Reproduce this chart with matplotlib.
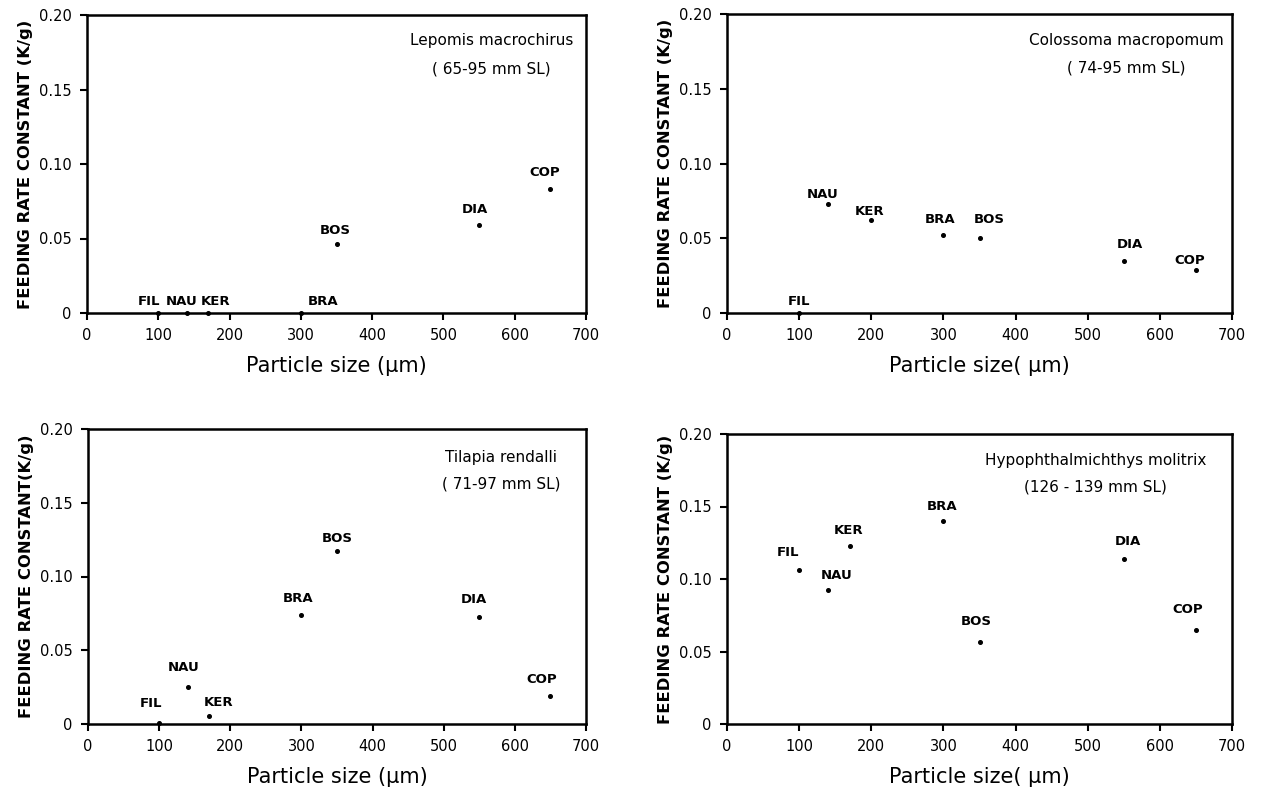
import matplotlib
matplotlib.use("Agg")
import matplotlib.pyplot as plt

# ---------------- data ----------------
prey = ["FIL", "NAU", "KER", "BRA", "BOS", "DIA", "COP"]

lepomis_size = [100, 140, 170, 300, 350, 550, 650]
lepomis_rate = [0.0, 0.0, 0.0, 0.0, 0.046, 0.059, 0.083]

colossoma_size = [100, 140, 200, 300, 350, 550, 650]
colossoma_rate = [0.0, 0.073, 0.062, 0.052, 0.050, 0.035, 0.029]

tilapia_size = [100, 140, 170, 300, 350, 550, 650]
tilapia_rate = [0.001, 0.025, 0.0055, 0.074, 0.1175, 0.0725, 0.019]

hypo_size = [100, 140, 170, 300, 350, 550, 650]
hypo_rate = [0.1065, 0.0925, 0.123, 0.140, 0.0565, 0.1135, 0.0645]

species = ["Lepomis macrochirus", "Colossoma macropomum",
           "Tilapia rendalli", "Hypophthalmichthys molitrix"]
size_ranges = ["( 65-95 mm SL)", "( 74-95 mm SL)",
               "( 71-97 mm SL)", "(126 - 139 mm SL)"]

x_ticks = [0, 100, 200, 300, 400, 500, 600, 700]
y_ticks = [0, 0.05, 0.10, 0.15, 0.20]
y_ticklabels = ["0", "0.05", "0.10", "0.15", "0.20"]

xlabels = ["Particle size (μm)", "Particle size( μm)",
           "Particle size (μm)", "Particle size( μm)"]
ylabels = ["FEEDING RATE CONSTANT (K/g)", "FEEDING RATE CONSTANT (K/g)",
           "FEEDING RATE CONSTANT(K/g)", "FEEDING RATE CONSTANT (K/g)"]

# ---------------- style / layout ----------------
# label offsets (data units) relative to each point
label_dx = [
    [-13, -7, 11, 31, -2, -6, -8],
    [0, -7, -2, -4, 13, 9, -8],
    [-12, -6, 13, -5, 0, -7, -12],
    [-15, 12, -2, -2, -4, 6, -12],
]
label_dy = [
    [0.0078, 0.0078, 0.0078, 0.0078, 0.0095, 0.0105, 0.0115],
    [0.0078, 0.0060, 0.0060, 0.0103, 0.0125, 0.0110, 0.0063],
    [0.0130, 0.0132, 0.0088, 0.0108, 0.0085, 0.0122, 0.0115],
    [0.0116, 0.0096, 0.0107, 0.0100, 0.0140, 0.0124, 0.0143],
]
# species text block centre in axes fraction
title_pos = [(0.81, 0.913, 0.819), (0.79, 0.913, 0.819),
             (0.83, 0.905, 0.815), (0.73, 0.910, 0.817)]

axes_rects = [
    [87 / 1263, 1 - 313 / 790, 499 / 1263, 298 / 790],
    [727 / 1263, 1 - 313 / 790, 505 / 1263, 299 / 790],
    [88 / 1263, 1 - 724 / 790, 498 / 1263, 295 / 790],
    [727 / 1263, 1 - 724 / 790, 505 / 1263, 290 / 790],
]

all_sizes = [lepomis_size, colossoma_size, tilapia_size, hypo_size]
all_rates = [lepomis_rate, colossoma_rate, tilapia_rate, hypo_rate]

fig = plt.figure(figsize=(12.63, 7.90), dpi=100)
fig.patch.set_facecolor("white")

for i in range(4):
    ax = fig.add_axes(axes_rects[i])
    xs, ys = all_sizes[i], all_rates[i]
    ax.plot(xs, ys, linestyle="none", marker="o", markersize=2.6,
            color="black", clip_on=False, zorder=3)
    for j, name in enumerate(prey):
        ax.text(xs[j] + label_dx[i][j], ys[j] + label_dy[i][j], name,
                ha="center", va="center", fontsize=9.5, fontweight="bold",
                color="black")
    ax.set_xlim(0, 700)
    ax.set_ylim(0, 0.20)
    ax.set_xticks(x_ticks)
    ax.set_xticklabels([str(t) for t in x_ticks])
    ax.set_yticks(y_ticks)
    ax.set_yticklabels(y_ticklabels)
    ax.tick_params(direction="out", length=5, width=1.5, labelsize=10.5,
                   colors="black", pad=6)
    for sp in ax.spines.values():
        sp.set_linewidth(1.8)
        sp.set_color("black")
    cx, ty1, ty2 = title_pos[i]
    ax.text(cx, ty1, species[i], transform=ax.transAxes, ha="center",
            va="center", fontsize=11)
    ax.text(cx, ty2, size_ranges[i], transform=ax.transAxes, ha="center",
            va="center", fontsize=11)
    ax.set_xlabel(xlabels[i], fontsize=15, labelpad=9)
    ax.set_ylabel(ylabels[i], fontsize=11.8, fontweight="bold", labelpad=4)

fig.savefig("out.png", dpi=100, facecolor="white")
